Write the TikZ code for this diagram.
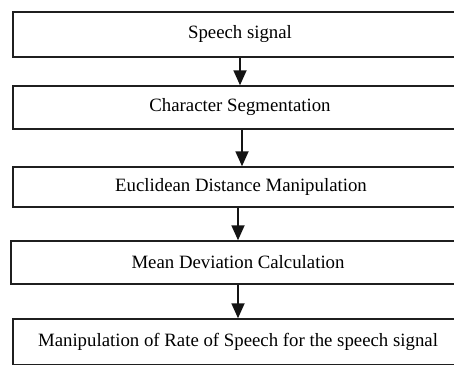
\documentclass[tikz,border=0pt]{standalone}
\usepackage{fontspec}
\setmainfont{Liberation Serif}
\usetikzlibrary{arrows.meta}
\begin{document}
\begin{tikzpicture}[x=1pt,y=-1pt,
  stagebox/.style={draw=black!88,line width=1.5pt,rectangle,inner sep=0pt,
    font=\fontsize{18.8}{22}\selectfont,text=black},
  arr/.style={draw=black!92,line width=1.8pt,-{Triangle[width=13pt,length=15pt]}}]
\useasboundingbox (0,0) rectangle (454,364);
\clip (0,0) rectangle (454,364);
\fill[white] (0,0) rectangle (454,364);
\node[stagebox,minimum width=454pt,minimum height=45pt] (b1) at (240,34.5) {Speech signal};
\node[stagebox,minimum width=454pt,minimum height=43pt] (b2) at (240,107.5) {Character Segmentation};
\node[stagebox,minimum width=456pt,minimum height=40pt] (b3) at (241,187) {Euclidean Distance Manipulation};
\node[stagebox,minimum width=454pt,minimum height=43pt] (b4) at (238,262.5) {Mean Deviation Calculation};
\node[stagebox,minimum width=450pt,minimum height=46pt] (b5) at (238,342) {Manipulation of Rate of Speech for the speech signal};
\draw[arr] (b1.south) -- (b1.south |- b2.north);
\draw[arr] ([xshift=2pt]b2.south) -- ([xshift=2pt]b2.south |- b3.north);
\draw[arr] ([xshift=-3pt]b3.south) -- ([xshift=-3pt]b3.south |- b4.north);
\draw[arr] (b4.south) -- (b4.south |- b5.north);
\end{tikzpicture}
\end{document}
